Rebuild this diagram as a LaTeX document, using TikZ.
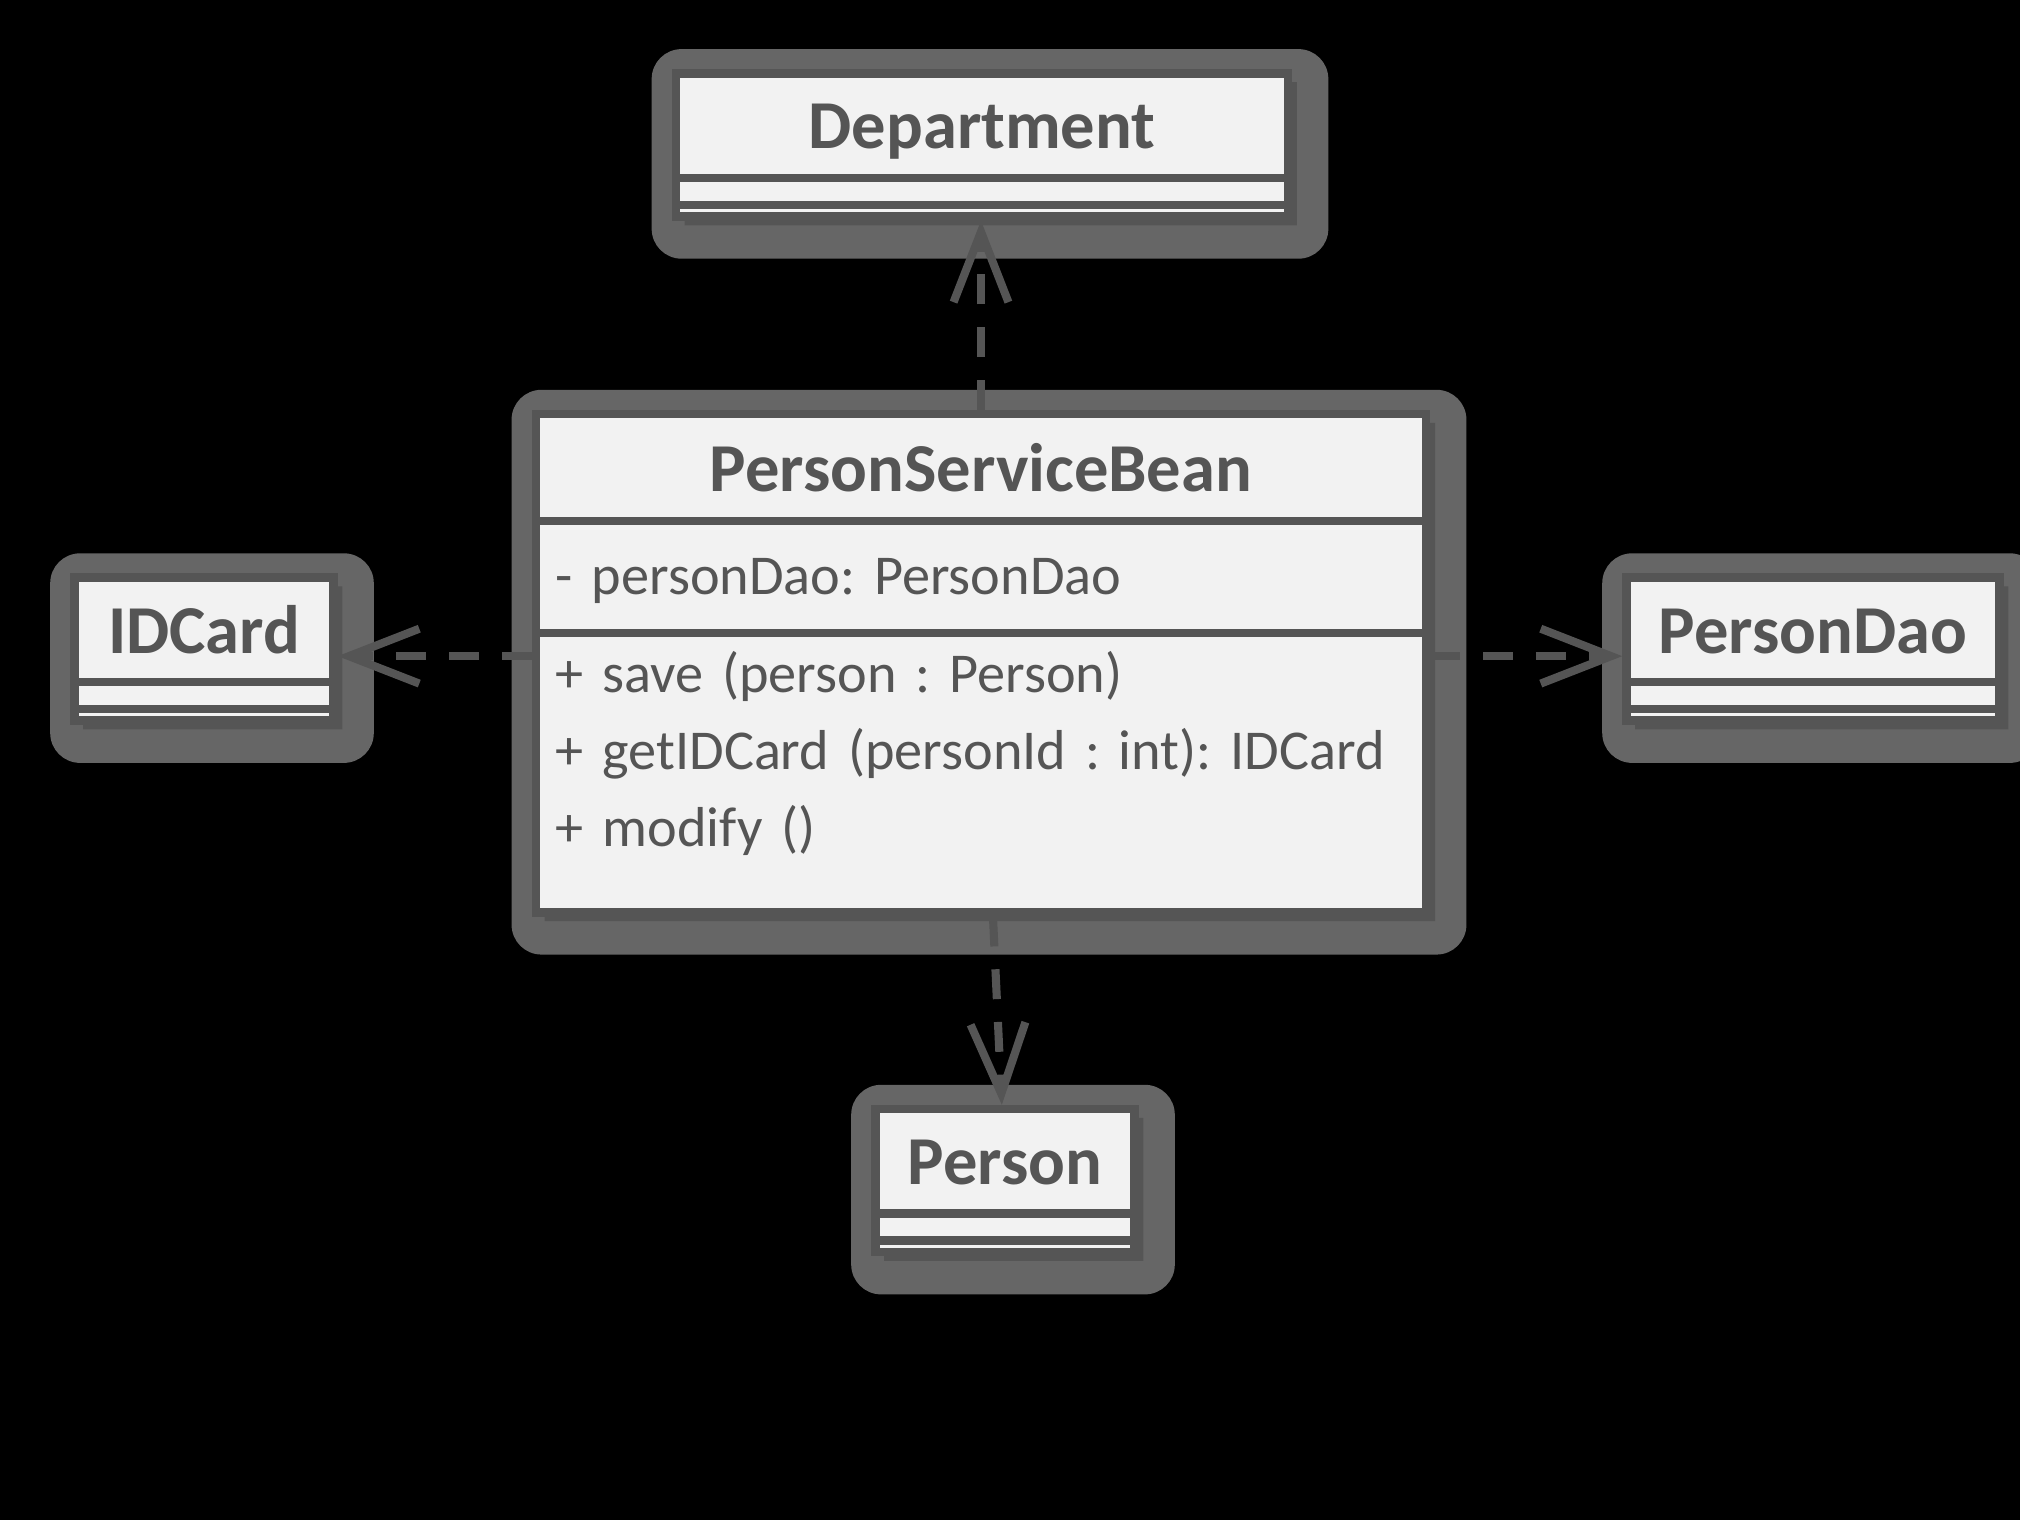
\documentclass[tikz,border=0pt]{standalone}
\usepackage{fontspec}
\setmainfont{Carlito}
\frenchspacing
\usetikzlibrary{shapes.multipart, shadows, fit, backgrounds, arrows.meta}

\definecolor{umlline}{HTML}{555555}
\definecolor{umlfill}{HTML}{F2F2F2}
\definecolor{umlhalo}{HTML}{666666}

\newcommand\classname[1]{{\fontsize{19.5pt}{23pt}\selectfont\bfseries #1}}
\newcommand\titleline[1]{\hbox to\hsize{\hfil\rule[-7pt]{0pt}{27.3pt}\classname{#1}\hfil}}
\newcommand\memberline[1]{\hbox to\hsize{#1\hfil}}
\newcommand\emptyparts{\nodepart{two}\rule{0pt}{5.3pt}\nodepart{three}\rule{0pt}{0.9pt}}

\tikzstyle {umlclass} = [rectangle split, rectangle split parts=3, draw=umlline, fill=umlfill, line width=2.4pt, inner xsep=5.7pt, inner ysep=0pt, text=umlline, font=\fontsize{16pt}{21.9pt}\selectfont, drop shadow={shadow xshift=2.5pt, shadow yshift=-2.5pt, fill=umlline, opacity=1}]
\tikzstyle {halo} = [fill=umlhalo, rounded corners=8.5pt, inner sep=0pt]
\tikzstyle {depend} = [draw=umlline, line width=2.3pt, dash pattern=on 8.5pt off 6.5pt, -{Straight Barb[length=20pt, width=15.6pt]}]

\begin{document}
\begin{tikzpicture}[x=0.01cm, y=-0.01cm]
            \useasboundingbox (0,0) rectangle (2020,1520);
            \node [umlclass, text width=241.8pt, anchor=north] (psb) at (981,409.8) {\hbox to\hsize{\hfil\rule[-7.3pt]{0pt}{28pt}\classname{PersonServiceBean}\hfil}
                \nodepart{two}\memberline{\rule[-9.8pt]{0pt}{29.4pt}- personDao: PersonDao}
                \nodepart{three}\memberline{\rule{0pt}{15.9pt}+ save (person : Person)}
                \memberline{+ getIDCard (personId : int): IDCard}
                \memberline{+ modify ()\rule[-17.4pt]{0pt}{17.4pt}}};
            \node [umlclass, text width=162.7pt, anchor=north] (dep) at (982,69.1) {\titleline{Department}\emptyparts};
            \node [umlclass, text width=62.3pt, anchor=north] (idc) at (204,573.3) {\titleline{IDCard}\emptyparts};
            \node [umlclass, text width=94.7pt, anchor=north] (pdao) at (1813,573.3) {\titleline{PersonDao}\emptyparts};
            \node [umlclass, text width=62.3pt, anchor=north] (per) at (1005,1104.8) {\titleline{Person}\emptyparts};

            \draw [depend] (psb.north) -- (psb.north |- dep.south);
            \draw [depend] ([yshift=2pt]psb.west) -- ([yshift=2pt]psb.west -| idc.east);
            \draw [depend] ([yshift=2pt]psb.east) -- ([yshift=2pt]psb.east -| pdao.west);
            \draw [depend] ([xshift=3.4pt]psb.south) -- ([xshift=-0.9pt]per.north);

            \begin{scope}[on background layer]
                \fill [black] (0,0) rectangle (2020,1520);
                \foreach \c in {psb, dep, idc, pdao, per}
                    \node [halo, fit={([shift={(-20,-20)}]\c.north west) ([shift={(36,38)}]\c.south east)}] (\c-halo) {};
            \end{scope}
        \end{tikzpicture}
\end{document}
